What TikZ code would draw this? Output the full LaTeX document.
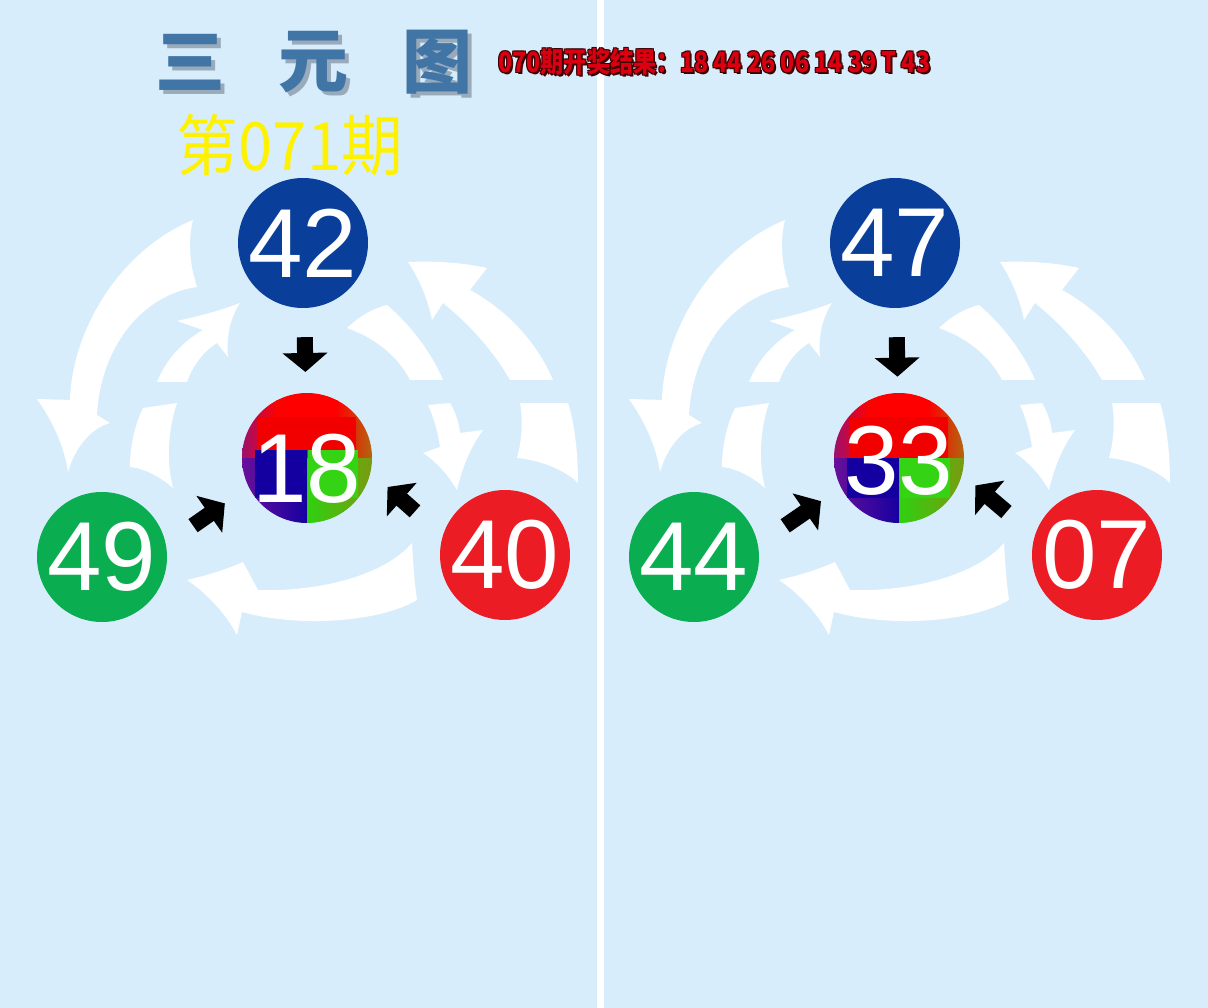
\documentclass[tikz,border=0pt]{standalone}
\usepackage{fontspec}
\usepackage{graphicx}
\setmainfont{Liberation Sans}
\newfontfamily\cjk{Noto Sans CJK SC}
\usepackage{xcolor}
\usetikzlibrary{arrows.meta,calc}

\definecolor{bgblue}{HTML}{D8EDFB}
\definecolor{ballblue}{HTML}{093F9B}
\definecolor{ballgreen}{HTML}{0AAE50}
\definecolor{ballred}{HTML}{EC1C24}
\definecolor{titleblue}{HTML}{4175A6}
\definecolor{titleshadow}{HTML}{8A9AAA}
\definecolor{prizered}{HTML}{DA0012}
\definecolor{prizeedge}{HTML}{3A0000}
\definecolor{mixpurple}{HTML}{9A1070}
\definecolor{mixbrown}{HTML}{B06A10}
\definecolor{mixviolet}{HTML}{6A109A}
\definecolor{mixblue}{HTML}{1600A0}
\definecolor{mixgreen}{HTML}{30D010}
\definecolor{mixolive}{HTML}{7A9A10}
\definecolor{blockred}{HTML}{F20000}
\definecolor{blockblue}{HTML}{1400A0}
\definecolor{blockgreen}{HTML}{34D414}

\newcommand\prizeline{\resizebox*{432pt}{27pt}{\cjk\bfseries 070期开奖结果：18 44 26 06 14 39 T 43}}

\tikzset{
  ball/.style={circle, minimum size=130pt, inner sep=0pt, text=white,
    font=\fontsize{98}{98}\selectfont},
  swirl/.style={fill=white},
  blockarrow/.style={line width=16pt, -{Triangle[width=44pt,length=19pt]}},
  titlechar/.style={inner sep=0pt, text=titleblue,
    font=\cjk\bfseries\fontsize{70}{70}\selectfont},
  prize/.style={anchor=west, inner sep=0pt, text=prizered},
  issue/.style={inner sep=0pt, text=yellow}
}

\begin{document}
\begin{tikzpicture}[x=1pt,y=-1pt]
\useasboundingbox (0,0) rectangle (1208,1008);
\fill[bgblue] (0,0) rectangle (1208,1008);
\fill[white] (597,0) rectangle (604,1008);

% title
\foreach \ch/\cx [count=\i] in {三/190,元/313,图/437} {
  \node[titlechar, text=titleshadow, opacity=.8] (tsh\i) at (\cx+4,66) {\ch};
  \node[titlechar] (t\i) at (\cx,62) {\ch};
}
\foreach \ox/\oy [count=\k] in {-1/-1,1/-1,-1/1,1/1,2/2}
  \node[prize, text=prizeedge] (psh\k) at (498+\ox,62+\oy) {\prizeline};
\node[prize] (prize) at (498,62) {\prizeline};
\node[issue] (issue) at (290,145) {\resizebox*{226pt}{62pt}{\cjk 第071期}};

% the two panels
\foreach \dx/\ntop/\nmid/\nleft/\nright/\cut/\txth in
    {0/42/18/49/40/-8/90, 592/47/33/44/07/0/74} {
\begin{scope}[xshift=\dx pt]
  % white arrows behind
  \fill[swirl] (193,220) .. controls (120,250) and (72,330) .. (70,400)
    -- (37,399) .. controls (52,420) and (64,445) .. (68,472)
    .. controls (76,445) and (92,428) .. (110,423)
    -- (97,415) .. controls (100,350) and (140,295) .. (197,287)
    .. controls (189,262) and (188,240) .. (193,220) -- cycle;
  \fill[swirl] (143,408) -- (177,403) .. controls (168,430) and (166,460) .. (173,488)
    .. controls (158,475) and (142,468) .. (130,467)
    .. controls (130,445) and (135,425) .. (143,408) -- cycle;
  \fill[swirl] (157,382) .. controls (166,360) and (182,342) .. (203,330)
    -- (177,321) .. controls (200,316) and (222,310) .. (240,303)
    .. controls (230,318) and (226,338) .. (228,357)
    -- (217,343) .. controls (203,352) and (193,365) .. (187,382) -- cycle;
  \fill[swirl] (347,328) .. controls (362,314) and (375,308) .. (387,305)
    .. controls (410,325) and (430,350) .. (443,380)
    -- (410,380) .. controls (400,360) and (380,340) .. (347,328) -- cycle;
  \fill[swirl] (428,405) -- (450,403) .. controls (456,413) and (459,423) .. (460,433)
    -- (483,430) .. controls (470,448) and (462,468) .. (457,490)
    .. controls (448,475) and (437,462) .. (423,453)
    -- (440,447) .. controls (438,432) and (434,418) .. (428,405) -- cycle;
  \fill[swirl] (520,403) -- (568,403) .. controls (575,425) and (578,455) .. (578,483)
    .. controls (565,470) and (540,460) .. (517,458)
    .. controls (522,440) and (523,420) .. (520,403) -- cycle;
  \fill[swirl] (510,380) -- (553,380) .. controls (538,345) and (510,312) .. (470,290)
    -- (487,268) .. controls (460,262) and (432,261) .. (408,262)
    .. controls (420,280) and (428,300) .. (432,320)
    -- (443,303) .. controls (468,323) and (493,350) .. (510,380) -- cycle;
  \fill[swirl] (412,543) .. controls (385,575) and (320,592) .. (258,590)
    -- (243,562) .. controls (225,570) and (205,576) .. (187,580)
    .. controls (205,592) and (225,612) .. (237,635)
    -- (242,612) .. controls (300,628) and (380,622) .. (417,600)
    .. controls (414,580) and (413,560) .. (412,543) -- cycle;

  % colour patches of the middle ball
  \begin{scope}
    \clip (307,458) circle[radius=65];
    \begin{scope}[shift={(307,458)}]
      \shade[left color=mixpurple, right color=red] (-66,-66) rectangle (-30,1);
      \fill[red] (-31,-66) rectangle (31,1);
      \shade[left color=red, right color=mixbrown] (30,-66) rectangle (66,1);
      \shade[left color=mixviolet, right color=mixblue] (-66,0) rectangle (0,66);
      \shade[left color=mixgreen, right color=mixolive] (0,0) rectangle (66,66);
      \fill[blockred] (-50,-41) rectangle (49,\cut);
      \fill[blockblue] (-52,\cut) rectangle (0,40);
      \fill[blockgreen] (1,\cut) rectangle (51,40);
    \end{scope}
  \end{scope}

  % balls
  \node[ball, fill=ballblue] (top\dx) at (303,243) {\ntop};
  \node[ball, fill=ballgreen] (left\dx) at (102,557) {\nleft};
  \node[ball, fill=ballred] (right\dx) at (505,555) {\nright};
  \node[ball, text height=\txth pt] (mid\dx) at (307,458) {\nmid};

  \draw[blockarrow, shorten <=29pt, shorten >=15pt] (top\dx) -- (mid\dx);
  \draw[blockarrow, shorten <=33pt, shorten >=23pt] (left\dx.11) -- (mid\dx.207);
  \draw[blockarrow, shorten <=37pt, shorten >=16pt] (right\dx.163) -- (mid\dx.-15);
\end{scope}
}
\end{tikzpicture}
\end{document}
